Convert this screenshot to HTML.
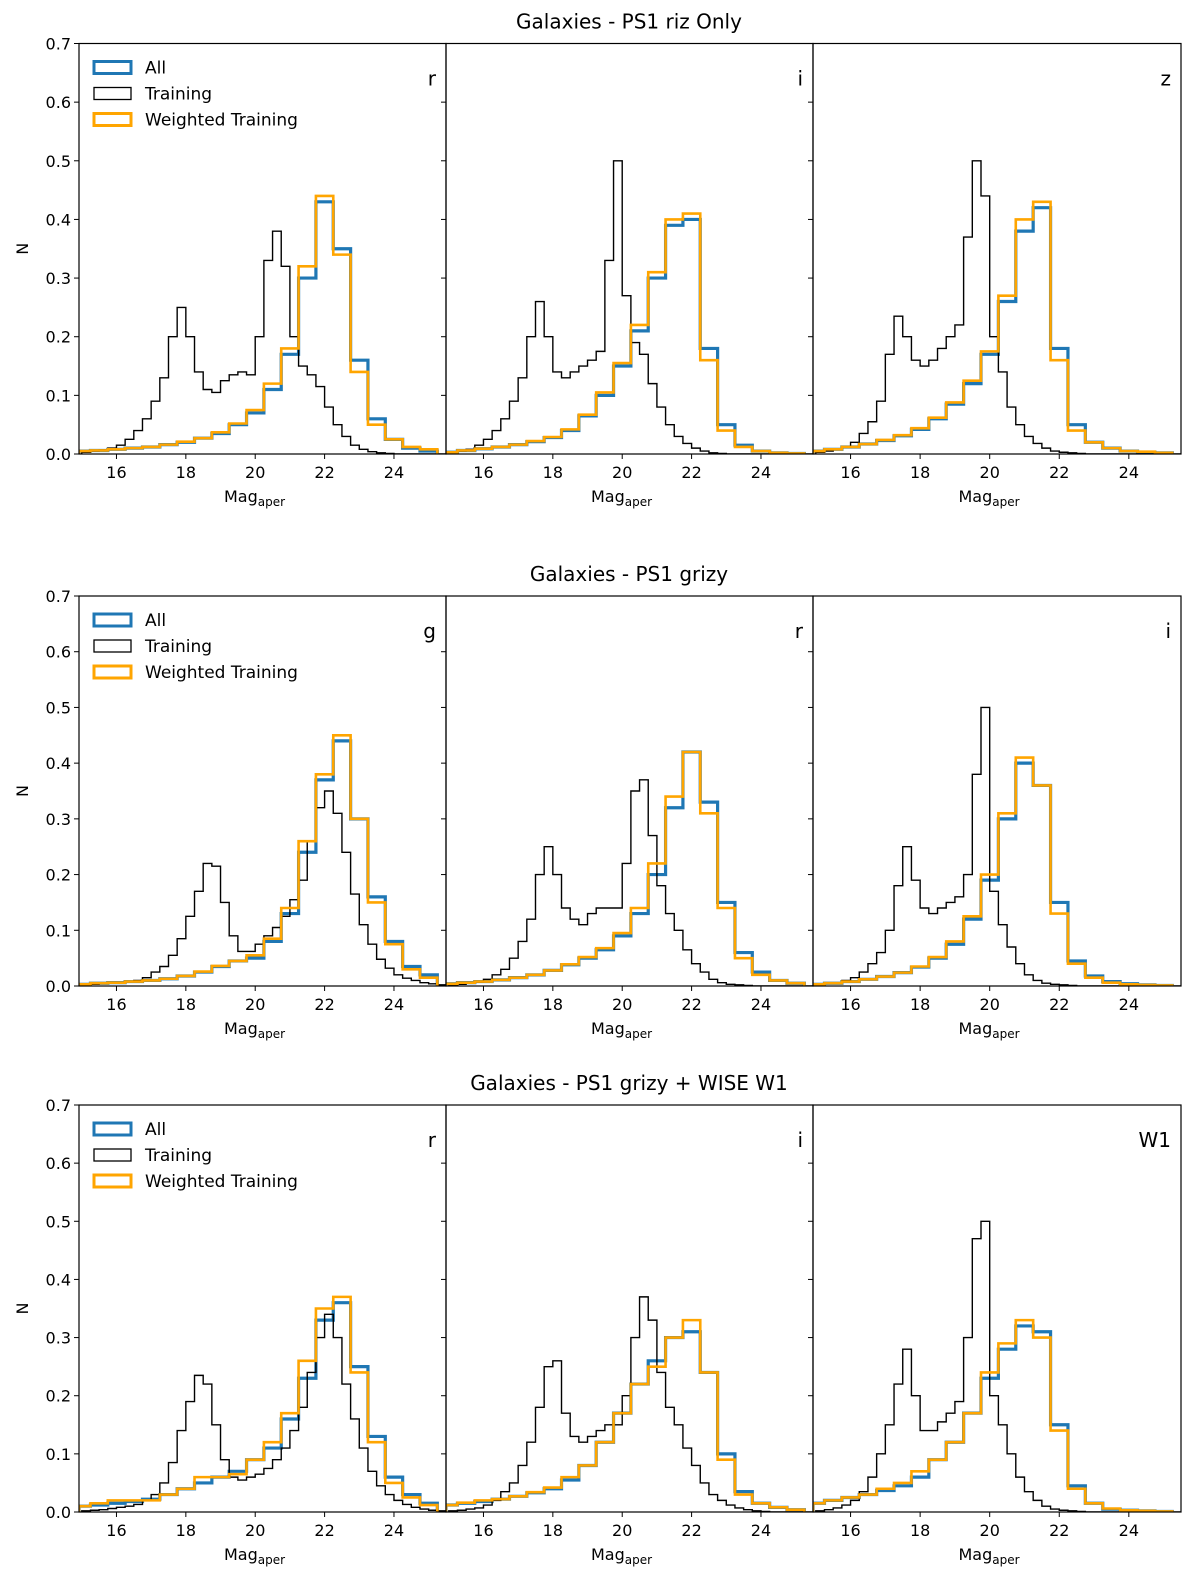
<!DOCTYPE html>
<html><head><meta charset="utf-8"><style>
html,body{margin:0;padding:0;background:#fff}
svg{display:block;font-family:"DejaVu Sans","Liberation Sans",sans-serif}
</style></head><body>
<svg id="chart" width="1200" height="1589" viewBox="0 0 1200 1589" xmlns="http://www.w3.org/2000/svg"></svg>
<script>
// ---- data ----
const panelTitles = ["Galaxies - PS1 riz Only", "Galaxies - PS1 grizy", "Galaxies - PS1 grizy + WISE W1"];
const bandLabels = [["r","i","z"],["g","r","i"],["r","i","W1"]];
const xTicks = [16,18,20,22,24];
const yTicks = [0.0,0.1,0.2,0.3,0.4,0.5,0.6,0.7];
const trainBinStart = 15.0, trainBinWidth = 0.25;
const allBinStart = 14.75, allBinWidth = 0.5;

const train_r1 = [0.003,0.005,0.007,0.01, 0.015,0.025,0.04,0.06, 0.09,0.13,0.2,0.25, 0.2,0.14,0.11,0.105, 0.125,0.135,0.14,0.135, 0.2,0.33,0.38,0.32, 0.2,0.15,0.135,0.115, 0.08,0.05,0.03,0.015, 0.008,0.004,0.002,0.001, 0,0,0,0,0,0];
const all_r1 = [0.005,0.006,0.008,0.01,0.012,0.016,0.02,0.027,0.035,0.05,0.07,0.11,0.17,0.3,0.43,0.35,0.16,0.06,0.025,0.01,0.005];
const wtd_r1 = [0.005,0.006,0.008,0.01,0.012,0.016,0.021,0.027,0.037,0.052,0.075,0.12,0.18,0.32,0.44,0.34,0.14,0.05,0.025,0.012,0.008];

const train_i1 = [0.003,0.005,0.008,0.015, 0.025,0.04,0.06,0.09, 0.13,0.2,0.26,0.2, 0.14,0.13,0.14,0.15, 0.16,0.175,0.33,0.5, 0.27,0.19,0.17,0.12, 0.08,0.05,0.03,0.018, 0.01,0.005,0.002,0.001, 0,0,0,0, 0,0,0,0,0,0];
const all_i1 = [0.003,0.006,0.009,0.012,0.016,0.021,0.028,0.04,0.065,0.1,0.15,0.21,0.3,0.39,0.4,0.18,0.05,0.015,0.005,0.002,0.001];
const wtd_i1 = [0.003,0.006,0.009,0.012,0.016,0.022,0.029,0.042,0.067,0.105,0.155,0.22,0.31,0.4,0.41,0.16,0.04,0.012,0.005,0.002,0.001];

const train_z1 = [0.003,0.005,0.008,0.012, 0.02,0.035,0.055,0.09, 0.17,0.235,0.2,0.16, 0.15,0.16,0.18,0.2, 0.22,0.37,0.5,0.44, 0.2,0.14,0.08,0.05, 0.03,0.018,0.01,0.005, 0.003,0.002,0.001,0, 0,0,0,0, 0,0,0,0,0,0];
const all_z1 = [0.005,0.008,0.012,0.017,0.023,0.031,0.042,0.06,0.085,0.12,0.17,0.26,0.38,0.42,0.18,0.05,0.02,0.01,0.005,0.003,0.002];
const wtd_z1 = [0.005,0.008,0.012,0.017,0.024,0.032,0.044,0.062,0.088,0.125,0.175,0.27,0.4,0.43,0.16,0.04,0.02,0.01,0.005,0.004,0.002];

const train_g2 = [0.002,0.003,0.004,0.005, 0.006,0.008,0.01,0.015, 0.025,0.035,0.055,0.085, 0.125,0.17,0.22,0.215, 0.15,0.09,0.062,0.062, 0.075,0.09,0.105,0.125, 0.155,0.19,0.26,0.32, 0.35,0.31,0.24,0.165, 0.11,0.075,0.048,0.032, 0.02,0.014,0.01,0.006,0.004,0.002];
const all_g2 = [0.003,0.005,0.006,0.008,0.01,0.013,0.018,0.025,0.035,0.045,0.05,0.08,0.13,0.24,0.37,0.44,0.3,0.16,0.08,0.035,0.02];
const wtd_g2 = [0.003,0.005,0.006,0.008,0.01,0.013,0.018,0.026,0.036,0.045,0.055,0.085,0.14,0.26,0.38,0.45,0.3,0.15,0.075,0.03,0.015];

const train_r2 = [0.002,0.003,0.005,0.007, 0.012,0.02,0.03,0.05, 0.08,0.12,0.2,0.25, 0.2,0.14,0.12,0.11, 0.13,0.14,0.14,0.14, 0.22,0.35,0.37,0.27, 0.18,0.13,0.1,0.065, 0.04,0.025,0.012,0.006, 0.003,0.002,0.001,0, 0,0,0,0,0,0];
const all_r2 = [0.004,0.006,0.008,0.011,0.015,0.02,0.028,0.038,0.05,0.065,0.09,0.13,0.2,0.32,0.42,0.33,0.15,0.06,0.025,0.01,0.005];
const wtd_r2 = [0.004,0.006,0.008,0.011,0.015,0.02,0.028,0.039,0.052,0.068,0.095,0.14,0.22,0.34,0.42,0.31,0.14,0.05,0.02,0.01,0.005];

const train_i2 = [0.002,0.004,0.006,0.01, 0.015,0.025,0.04,0.06, 0.1,0.18,0.25,0.19, 0.14,0.13,0.14,0.15, 0.16,0.2,0.38,0.5, 0.17,0.11,0.07,0.04, 0.02,0.01,0.005,0.003, 0.002,0.001,0,0, 0,0,0,0, 0,0,0,0,0,0];
const all_i2 = [0.003,0.005,0.008,0.012,0.017,0.024,0.034,0.05,0.075,0.12,0.19,0.3,0.4,0.36,0.15,0.045,0.018,0.008,0.004,0.002,0.001];
const wtd_i2 = [0.003,0.005,0.008,0.012,0.017,0.024,0.035,0.052,0.08,0.125,0.2,0.31,0.41,0.36,0.13,0.04,0.015,0.006,0.003,0.002,0.001];

const train_r3 = [0.002,0.003,0.004,0.006, 0.008,0.01,0.013,0.02, 0.03,0.05,0.085,0.14, 0.19,0.235,0.22,0.15, 0.09,0.06,0.055,0.06, 0.065,0.075,0.09,0.11, 0.14,0.18,0.24,0.3, 0.34,0.3,0.22,0.16, 0.11,0.07,0.045,0.03, 0.02,0.013,0.008,0.005,0.003,0.002];
const all_r3 = [0.01,0.012,0.015,0.018,0.022,0.03,0.04,0.05,0.06,0.07,0.09,0.11,0.16,0.23,0.33,0.36,0.25,0.13,0.06,0.03,0.015];
const wtd_r3 = [0.01,0.015,0.02,0.02,0.02,0.03,0.04,0.06,0.06,0.065,0.09,0.12,0.17,0.26,0.35,0.37,0.24,0.12,0.05,0.025,0.012];

const train_i3 = [0.002,0.003,0.005,0.007, 0.012,0.02,0.035,0.05, 0.08,0.12,0.18,0.25, 0.26,0.17,0.13,0.12, 0.13,0.14,0.15,0.15, 0.2,0.3,0.37,0.33, 0.24,0.18,0.15,0.11, 0.08,0.05,0.03,0.02, 0.012,0.007,0.004,0.002, 0.001,0,0,0,0,0];
const all_i3 = [0.012,0.015,0.018,0.022,0.027,0.033,0.04,0.055,0.08,0.12,0.17,0.22,0.26,0.3,0.31,0.24,0.1,0.035,0.015,0.008,0.004];
const wtd_i3 = [0.012,0.016,0.02,0.022,0.027,0.034,0.042,0.06,0.08,0.12,0.17,0.22,0.25,0.3,0.33,0.24,0.09,0.03,0.015,0.008,0.004];

const train_w3 = [0.002,0.004,0.007,0.012, 0.02,0.035,0.06,0.1, 0.15,0.22,0.28,0.2, 0.14,0.14,0.155,0.17, 0.19,0.3,0.47,0.5, 0.2,0.15,0.1,0.06, 0.035,0.02,0.01,0.005, 0.003,0.002,0.001,0, 0,0,0,0, 0,0,0,0,0,0];
const all_w3 = [0.015,0.02,0.025,0.03,0.037,0.045,0.06,0.09,0.12,0.17,0.23,0.28,0.32,0.31,0.15,0.045,0.015,0.005,0.003,0.002,0.001];
const wtd_w3 = [0.015,0.02,0.025,0.03,0.04,0.05,0.07,0.09,0.12,0.17,0.24,0.29,0.33,0.3,0.14,0.04,0.015,0.006,0.003,0.002,0.001];

const trainSeries = [[train_r1,train_i1,train_z1],[train_g2,train_r2,train_i2],[train_r3,train_i3,train_w3]];
const allSeries = [[all_r1,all_i1,all_z1],[all_g2,all_r2,all_i2],[all_r3,all_i3,all_w3]];
const wtdSeries = [[wtd_r1,wtd_i1,wtd_z1],[wtd_g2,wtd_r2,wtd_i2],[wtd_r3,wtd_i3,wtd_w3]];

// ---- layout ----
const NS = "http://www.w3.org/2000/svg";
const svg = document.getElementById("chart");
const rowBounds = [[43.5,454],[596,986],[1105,1512]];
const colBounds = [[79,446],[446,813],[813,1181]];
const xMin = 14.92, xMax = 25.5, yMax = 0.7;

function mk(tag, attrs, parent){
  const e = document.createElementNS(NS, tag);
  for (const k in attrs) e.setAttribute(k, attrs[k]);
  (parent||svg).appendChild(e);
  return e;
}
function clip(v){ return Math.max(xMin, Math.min(xMax, v)); }

function stepPath(vals, start, width, xs, ys){
  let d = "";
  for (let k=0;k<vals.length;k++){
    const x0 = xs(clip(start+k*width)), x1 = xs(clip(start+(k+1)*width)), y = ys(vals[k]);
    d += (k===0 ? "M"+x0+","+ys(0)+" L"+x0+","+y : " L"+x0+","+y) + " L"+x1+","+y;
  }
  d += " L"+xs(clip(start+vals.length*width))+","+ys(0);
  return d;
}

for (let r=0;r<3;r++){
  const [top,bot] = rowBounds[r];
  const ys = v => bot - v/yMax*(bot-top);
  const t = mk("text",{x:629,y:top-15,"text-anchor":"middle","font-size":"20",fill:"#000"});
  
  
  t.textContent = panelTitles[r];
  const yl = mk("text",{x:0,y:0,transform:"translate(28,"+((top+bot)/2)+") rotate(-90)","text-anchor":"middle","font-size":"16",fill:"#000"});
  
  
  yl.textContent = "N";
  for (let c=0;c<3;c++){
    const [left,right] = colBounds[c];
    const xs = v => left + (v-xMin)/(xMax-xMin)*(right-left);
    const g = mk("g",{});
    
    
    const cp = mk("clipPath",{id:"cp"+r+c},g);
    mk("rect",{x:left,y:top,width:right-left,height:bot-top},cp);
    const pa = mk("path",{d:stepPath(allSeries[r][c],allBinStart,allBinWidth,xs,ys),fill:"none",stroke:"#1f77b4","stroke-width":"3.2","clip-path":"url(#cp"+r+c+")"},g);
    
    
    const pt = mk("path",{d:stepPath(trainSeries[r][c],trainBinStart,trainBinWidth,xs,ys),fill:"none",stroke:"#000","stroke-width":"1.4","clip-path":"url(#cp"+r+c+")"},g);
    
    
    const pw = mk("path",{d:stepPath(wtdSeries[r][c],allBinStart,allBinWidth,xs,ys),fill:"none",stroke:"#ffa500","stroke-width":"2.6","clip-path":"url(#cp"+r+c+")"},g);
    
    
    const fr = mk("rect",{x:left,y:top,width:right-left,height:bot-top,fill:"none",stroke:"#000","stroke-width":"1.2"},g);
    
    
    for (const tv of xTicks){
      const x = xs(tv);
      mk("line",{x1:x,y1:bot,x2:x,y2:bot+5,stroke:"#000","stroke-width":"1"},g);
      const tl = mk("text",{x:x,y:bot+24,"text-anchor":"middle","font-size":"16",fill:"#000"},g);
      
      
      tl.textContent = tv;
    }
    for (const tv of yTicks){
      const y = ys(tv);
      mk("line",{x1:left-5,y1:y,x2:left,y2:y,stroke:"#000","stroke-width":"1"},g);
      if (c===0){
        const tl = mk("text",{x:left-8,y:y+6,"text-anchor":"end","font-size":"16",fill:"#000"},g);
        
        
        tl.textContent = tv.toFixed(1);
      }
    }
    const xl = mk("text",{x:(left+right)/2-8,y:bot+48,"text-anchor":"middle","font-size":"16",fill:"#000"},g);
    
    
    xl.innerHTML = 'Mag<tspan font-size="12" dy="4">aper</tspan>';
    const bl = mk("text",{x:right-10,y:top+42,"text-anchor":"end","font-size":"20",fill:"#000"},g);
    
    
    bl.textContent = bandLabels[r][c];
    if (c===0){
      const lg = mk("g",{},g);
      
      
      const items = [["All","#1f77b4",3],["Training","#000",1.3],["Weighted Training","#ffa500",3]];
      items.forEach((it,k)=>{
        const yy = top+24+k*26;
        const ent = mk("g",{},lg);
        
        
        mk("rect",{x:94,y:yy-6,width:37,height:12,fill:"none",stroke:it[1],"stroke-width":it[2]},ent);
        const lt = mk("text",{x:145,y:yy+6,"font-size":"17",fill:"#000"},ent);
        lt.textContent = it[0];
      });
    }
  }
}
</script>
</body></html>
